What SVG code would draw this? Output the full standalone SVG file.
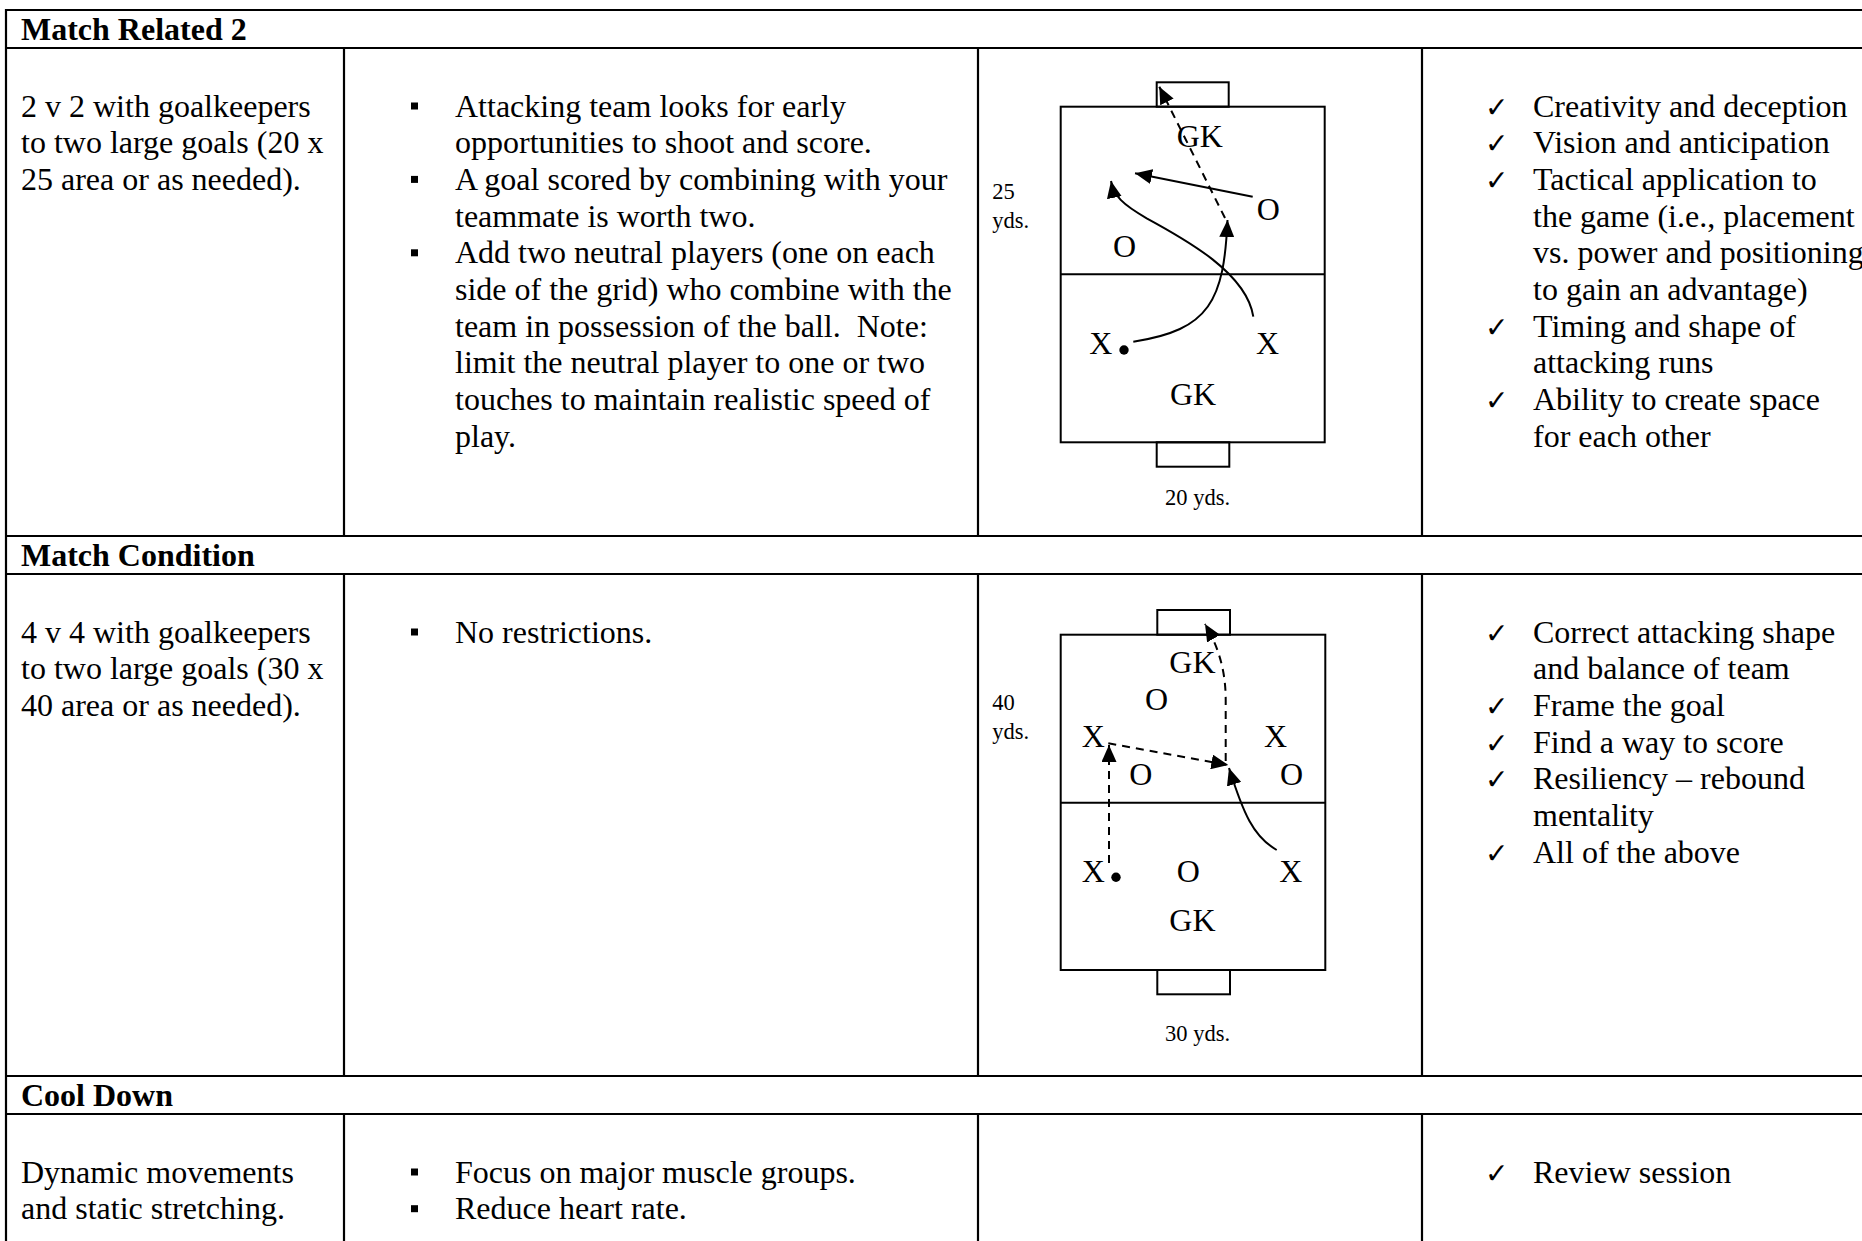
<svg xmlns="http://www.w3.org/2000/svg" width="1862" height="1241" viewBox="0 0 1862 1241">
<defs>
<style>
.t{font-family:"Liberation Serif","Times New Roman",serif;font-size:32px;fill:#000}
.h{font-family:"Liberation Serif","Times New Roman",serif;font-size:32px;font-weight:bold;fill:#000}
.s{font-family:"Liberation Serif","Times New Roman",serif;font-size:22.5px;fill:#000}
.ck{font-family:"DejaVu Sans",sans-serif;font-size:28px;fill:#000}
.grid{stroke:#000;stroke-width:2.2;fill:none}
.fld{stroke:#000;stroke-width:2;fill:none}
.arr{stroke:#000;stroke-width:2;fill:none;marker-end:url(#ah)}
.dash{stroke-dasharray:8 6}
</style>
<marker id="ah" viewBox="0 0 17 15" refX="17" refY="7.5" markerWidth="17" markerHeight="15" markerUnits="userSpaceOnUse" orient="auto">
<path d="M0,0 L17,7.5 L0,15 z" fill="#000"/>
</marker>
</defs>
<rect width="1862" height="1241" fill="#fff"/>

<g id="table-grid" class="grid">
<line x1="6" y1="10" x2="1862" y2="10"/>
<line x1="6" y1="48" x2="1862" y2="48"/>
<line x1="6" y1="536" x2="1862" y2="536"/>
<line x1="6" y1="574" x2="1862" y2="574"/>
<line x1="6" y1="1076" x2="1862" y2="1076"/>
<line x1="6" y1="1114" x2="1862" y2="1114"/>
<line x1="6" y1="9" x2="6" y2="1241"/>
<line x1="344" y1="48" x2="344" y2="536"/>
<line x1="978" y1="48" x2="978" y2="536"/>
<line x1="1422" y1="48" x2="1422" y2="536"/>
<line x1="344" y1="574" x2="344" y2="1076"/>
<line x1="978" y1="574" x2="978" y2="1076"/>
<line x1="1422" y1="574" x2="1422" y2="1076"/>
<line x1="344" y1="1114" x2="344" y2="1241"/>
<line x1="978" y1="1114" x2="978" y2="1241"/>
<line x1="1422" y1="1114" x2="1422" y2="1241"/>
</g>

<g id="hdr-match-related-2"><text class="h" x="21" y="39.5">Match Related 2</text></g>
<g id="hdr-match-condition"><text class="h" x="21" y="565.5">Match Condition</text></g>
<g id="hdr-cool-down"><text class="h" x="21" y="1105.5">Cool Down</text></g>

<g id="r1-activity">
<text class="t" x="21" y="116.5">2 v 2 with goalkeepers</text>
<text class="t" x="21" y="153.2">to two large goals (20 x</text>
<text class="t" x="21" y="189.9">25 area or as needed).</text>
</g>

<g id="r1-rules">
<rect x="411" y="102.5" width="7" height="7"/>
<rect x="411" y="175.9" width="7" height="7"/>
<rect x="411" y="249.3" width="7" height="7"/>
<text class="t" x="455" y="116.5">Attacking team looks for early</text>
<text class="t" x="455" y="153.2">opportunities to shoot and score.</text>
<text class="t" x="455" y="189.9">A goal scored by combining with your</text>
<text class="t" x="455" y="226.6">teammate is worth two.</text>
<text class="t" x="455" y="263.3">Add two neutral players (one on each</text>
<text class="t" x="455" y="300">side of the grid) who combine with the</text>
<text class="t" x="455" y="336.7">team in possession of the ball.&#160; Note:</text>
<text class="t" x="455" y="373.4">limit the neutral player to one or two</text>
<text class="t" x="455" y="410.1">touches to maintain realistic speed of</text>
<text class="t" x="455" y="446.8">play.</text>
</g>

<g id="r1-diagram">
<rect class="fld" x="1060.7" y="106.7" width="264" height="335.6"/>
<line class="fld" x1="1060.7" y1="274.3" x2="1324.7" y2="274.3"/>
<rect class="fld" x="1156.7" y="82.3" width="72" height="24.4"/>
<rect class="fld" x="1156.7" y="442.3" width="72.6" height="24.4"/>
<text class="t" x="1176.7" y="146.7">GK</text>
<text class="t" x="1256.7" y="220">O</text>
<text class="t" x="1113" y="256.7">O</text>
<text class="t" x="1089.3" y="354.3">X</text>
<text class="t" x="1256" y="354.3">X</text>
<text class="t" x="1170" y="405">GK</text>
<circle cx="1124" cy="350" r="4.7"/>
<text class="s" x="992.3" y="199.3">25</text>
<text class="s" x="992.3" y="228.3">yds.</text>
<text class="s" x="1165" y="505">20 yds.</text>
</g>

<g id="r1-connectors">
<path class="arr dash" d="M1225,218 L1159.3,86.7"/>
<path class="arr" d="M1252.7,196.7 L1135,173.3"/>
<path class="arr" d="M1253.3,316.7 C1246.7,273.3 1186.7,240 1146.7,218.3 C1122,204 1114,196 1111,181"/>
<path class="arr" d="M1133.3,341.7 C1210,330 1224,300 1227.5,220"/>
</g>

<g id="r1-coaching">
<text class="ck" x="1485" y="116.5">✓</text>
<text class="ck" x="1485" y="153.2">✓</text>
<text class="ck" x="1485" y="189.9">✓</text>
<text class="ck" x="1485" y="336.7">✓</text>
<text class="ck" x="1485" y="410.1">✓</text>
<text class="t" x="1533" y="116.5">Creativity and deception</text>
<text class="t" x="1533" y="153.2">Vision and anticipation</text>
<text class="t" x="1533" y="189.9">Tactical application to</text>
<text class="t" x="1533" y="226.6">the game (i.e., placement</text>
<text class="t" x="1533" y="263.3">vs. power and positioning</text>
<text class="t" x="1533" y="300">to gain an advantage)</text>
<text class="t" x="1533" y="336.7">Timing and shape of</text>
<text class="t" x="1533" y="373.4">attacking runs</text>
<text class="t" x="1533" y="410.1">Ability to create space</text>
<text class="t" x="1533" y="446.8">for each other</text>
</g>

<g id="r2-activity">
<text class="t" x="21" y="642.5">4 v 4 with goalkeepers</text>
<text class="t" x="21" y="679.2">to two large goals (30 x</text>
<text class="t" x="21" y="715.9">40 area or as needed).</text>
</g>

<g id="r2-rules">
<rect x="411" y="628.5" width="7" height="7"/>
<text class="t" x="455" y="642.5">No restrictions.</text>
</g>

<g id="r2-diagram">
<rect class="fld" x="1060.7" y="634.7" width="264.6" height="335.3"/>
<line class="fld" x1="1060.7" y1="802.7" x2="1325.3" y2="802.7"/>
<rect class="fld" x="1157.3" y="610" width="72.7" height="24.7"/>
<rect class="fld" x="1157.3" y="970" width="72.7" height="24.3"/>
<text class="t" x="1169.3" y="673.3">GK</text>
<text class="t" x="1145" y="710">O</text>
<text class="t" x="1081.7" y="746.7">X</text>
<text class="t" x="1264" y="746.7">X</text>
<text class="t" x="1129.3" y="785">O</text>
<text class="t" x="1280" y="785">O</text>
<text class="t" x="1081.7" y="881.7">X</text>
<text class="t" x="1176.7" y="881.7">O</text>
<text class="t" x="1279.3" y="881.7">X</text>
<text class="t" x="1169.3" y="931">GK</text>
<circle cx="1116" cy="877.3" r="4.7"/>
<text class="s" x="992.3" y="710">40</text>
<text class="s" x="992.3" y="739">yds.</text>
<text class="s" x="1165" y="1041">30 yds.</text>
</g>

<g id="r2-connectors">
<path class="arr dash" d="M1109,863 L1109,745"/>
<path class="arr dash" d="M1108.3,743.3 L1228.3,765"/>
<path class="arr dash" d="M1225.7,761 L1225.7,700 C1225.7,670 1218.3,646.7 1205,624"/>
<path class="arr" d="M1276.7,850 C1253.3,836.7 1243.3,813.3 1229,768"/>
</g>

<g id="r2-coaching">
<text class="ck" x="1485" y="642.5">✓</text>
<text class="ck" x="1485" y="715.9">✓</text>
<text class="ck" x="1485" y="752.6">✓</text>
<text class="ck" x="1485" y="789.3">✓</text>
<text class="ck" x="1485" y="862.7">✓</text>
<text class="t" x="1533" y="642.5">Correct attacking shape</text>
<text class="t" x="1533" y="679.2">and balance of team</text>
<text class="t" x="1533" y="715.9">Frame the goal</text>
<text class="t" x="1533" y="752.6">Find a way to score</text>
<text class="t" x="1533" y="789.3">Resiliency – rebound</text>
<text class="t" x="1533" y="826">mentality</text>
<text class="t" x="1533" y="862.7">All of the above</text>
</g>

<g id="r3-activity">
<text class="t" x="21" y="1182.5">Dynamic movements</text>
<text class="t" x="21" y="1219.2">and static stretching.</text>
</g>

<g id="r3-rules">
<rect x="411" y="1168.5" width="7" height="7"/>
<rect x="411" y="1205.2" width="7" height="7"/>
<text class="t" x="455" y="1182.5">Focus on major muscle groups.</text>
<text class="t" x="455" y="1219.2">Reduce heart rate.</text>
</g>

<g id="r3-coaching">
<text class="ck" x="1485" y="1182.5">✓</text>
<text class="t" x="1533" y="1182.5">Review session</text>
</g>
</svg>
